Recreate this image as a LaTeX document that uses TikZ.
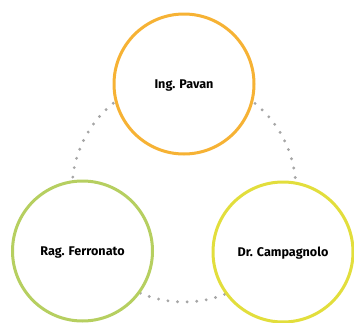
\documentclass[tikz,border=0pt]{standalone}
\usepackage{fontspec}
\setmainfont{Fira Sans}
\begin{document}
\begin{tikzpicture}[x=1pt,y=-1pt,
  ring/.style={circle, draw, line width=3pt, fill=white, minimum size=140pt,
    inner sep=0pt, text depth=0pt, font=\bfseries\fontsize{12.6}{15}\selectfont},
  dotring/.style={draw=gray!70, line width=3.2pt, line cap=round,
    dash pattern=on 0pt off 9.6pt}]
\definecolor{ringorange}{RGB}{246,178,52}
\definecolor{ringgreen}{RGB}{182,207,96}
\definecolor{ringyellow}{RGB}{226,222,60}
\useasboundingbox (0,0) rectangle (354,322);
% dotted link circle behind the rings
\draw[dotring] (184,190) circle[radius=112];
\node[ring, draw=ringorange] (pavan) at (184,84) {Ing. Pavan};
\node[ring, draw=ringgreen] (ferronato) at (82.5,251) {Rag. Ferronato};
\node[ring, draw=ringyellow] (campagnolo) at (283,252) {Dr. Campagnolo};
\end{tikzpicture}
\end{document}
